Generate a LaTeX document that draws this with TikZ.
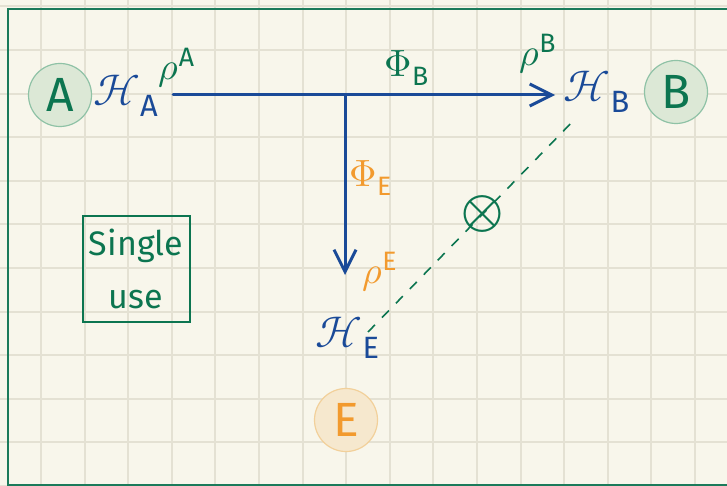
\documentclass[tikz,border=0pt]{standalone}
\usepackage{fontspec}
\usepackage{unicode-math}
\setsansfont{Fira Sans}
\usetikzlibrary{arrows.meta, positioning}
\definecolor{paper}{HTML}{F8F6EB}
\definecolor{gridc}{HTML}{E4E1D3}
\definecolor{frameg}{HTML}{1B7A5A}
\definecolor{inkg}{HTML}{0C7550}
\definecolor{inkb}{HTML}{1A4A98}
\definecolor{inko}{HTML}{F29A2E}
\definecolor{discg}{HTML}{DCE8D6}
\definecolor{rimg}{HTML}{8FC2A6}
\definecolor{disco}{HTML}{F6E8CE}
\definecolor{rimo}{HTML}{F2D09A}
\tikzset{every picture/.style={/utils/exec={\sffamily}}}

\begin{document}
\begin{tikzpicture}[x=0.5pt, y=-0.5pt, >={Straight Barb[length=11pt, width=11pt]},
        party/.style={circle, minimum size=31.5pt, inner sep=0pt, line width=0.6pt, font=\fontsize{24}{24}\selectfont},
        hilb/.style={text=inkb, font=\fontsize{22}{22}\selectfont},
        grlb/.style={text=inkg, font=\fontsize{19}{19}\selectfont},
        orlb/.style={text=inko, font=\fontsize{19}{19}\selectfont},
        flow/.style={->, draw=inkb, line width=1.5pt, line cap=round}]
        % Paper and grid
        \fill[paper] (0,0) rectangle (727,486);
        \useasboundingbox (0,0) rectangle (727,486);
        \begin{scope}
            \clip (0,0) rectangle (727,486);
            \foreach \i in {-1,...,15}
                \draw[gridc, line width=1pt] ({41+43.6*\i},0) -- ({41+43.6*\i},486);
            \foreach \j in {-1,...,10}
                \draw[gridc, line width=1pt] (0,{50+43.6*\j}) -- (727,{50+43.6*\j});
            \draw[frameg, line width=1pt] (730,9) -- (8,9) -- (8,485) -- (730,485);
        \end{scope}

        % Parties
        \node[party, fill=discg, draw=rimg, text=inkg] (A) at (60,95) {A};
        \node[party, fill=discg, draw=rimg, text=inkg] (B) at (676,92) {B};
        \node[party, fill=disco, draw=rimo, text=inko] (E) at (346,420) {E};

        % Spaces and states
        \node[hilb] (HA) at (126,96) {$\mathcal{H}_{\mathsf{A}}$};
        \node[hilb] (HB) at (597,92) {$\mathcal{H}_{\mathsf{B}}$};
        \node[hilb] (HE) at (348,338) {$\mathcal{H}_{\mathsf{E}}$};
        \node[grlb] (rA) at (177,68) {$\rho^{\mathsf{A}}$};
        \node[grlb] (rB) at (538,54) {$\rho^{\mathsf{B}}$};
        \node[orlb] (rE) at (380,272) {$\rho^{\mathsf{E}}$};
        \node[grlb] (PB) at (407,68) {$\Phi_{\mathsf{B}}$};
        \node[orlb] (PE) at (371,178) {$\Phi_{\mathsf{E}}$};

        % Single use note
        \node[draw=inkg, line width=1pt, minimum width=53.5pt, minimum height=53pt, inner xsep=2pt, text=inkg,
              align=center, font=\fontsize{17}{26.5}\selectfont] (note) at (136,269) {Single\\use};

        % Channel
        \coordinate (outA) at (173,95);
        \coordinate (inB) at (555,95);
        \coordinate (tee) at (345,95);
        \coordinate (inE) at (345,275);
        \draw[flow] (outA) -- (inB);
        \draw[flow] (tee) -- (inE);

        % No link between E and B
        \coordinate (endE) at (368,332);
        \coordinate (endB) at (577,117);
        \draw[inkg, line width=0.8pt, dash pattern=on 5pt off 5pt] (endE) -- (endB)
            node[pos=0.55, text=inkg, font=\fontsize{27}{27}\selectfont] (cut) {$\otimes$};
    \end{tikzpicture}
\end{document}
